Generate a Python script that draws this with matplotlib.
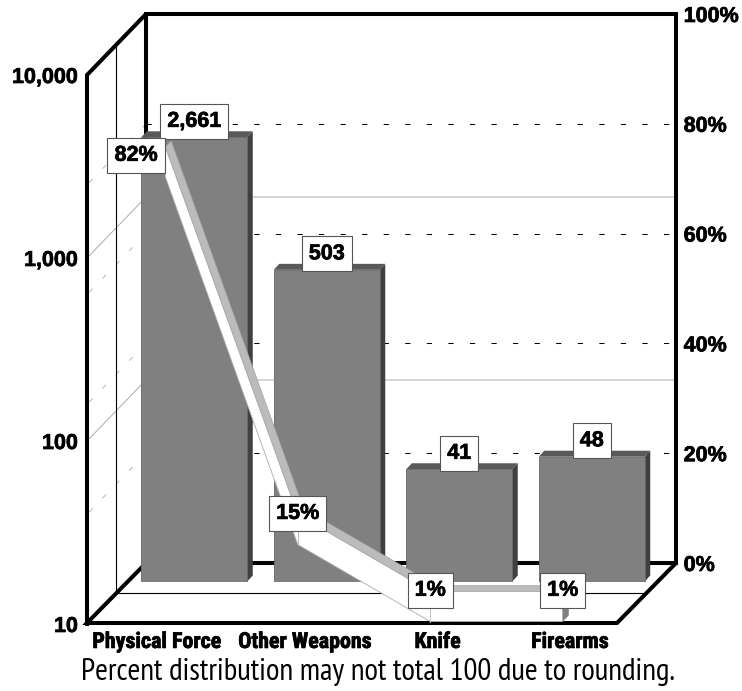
import matplotlib
matplotlib.use("Agg")
import matplotlib.patheffects as pe
import matplotlib.pyplot as plt
import numpy as np
from matplotlib.lines import Line2D
from matplotlib.patches import Polygon
from matplotlib.transforms import Affine2D, IdentityTransform

categories = ["Physical Force", "Other Weapons", "Knife", "Firearms"]
counts = [2661, 503, 41, 48]
count_labels = ["2,661", "503", "41", "48"]
percents = [82, 15, 1, 1]
percent_labels = ["82%", "15%", "1%", "1%"]
count_ticks = [10, 100, 1000, 10000]
count_tick_labels = ["10", "100", "1,000", "10,000"]
percent_ticks = [0, 20, 40, 60, 80, 100]
percent_tick_labels = ["0%", "20%", "40%", "60%", "80%", "100%"]
footnote = "Percent distribution may not total 100 due to rounding."

W, H = 742, 691
BOLD = ["Liberation Sans", "DejaVu Sans"]
NARROW_BOLD = ["Roboto Condensed", "Liberation Sans", "DejaVu Sans"]
NARROW = ["PT Sans Narrow", "Roboto Condensed", "Liberation Sans", "DejaVu Sans"]
heavy = [pe.withStroke(linewidth=0.5, foreground="black")]
DEPTH = (59, 61)  # front plane to back wall, in pixels

fig = plt.figure(figsize=(W / 100, H / 100), dpi=100, facecolor="white")


def addAxes(left, top, right, bottom):
    ax = fig.add_axes([left / W, 1 - bottom / H, (right - left) / W, (bottom - top) / H])
    ax.patch.set_alpha(0)
    for spine in ax.spines.values():
        spine.set_visible(False)
    ax.set_xlim(-0.5, 3.5)
    return ax


def px(x, y):
    return x, H - y


def frameLine(ax, points, color="black", lw=2.9, **kw):
    xs, ys = zip(*[px(*p) for p in points])
    ax.add_line(Line2D(xs, ys, color=color, lw=lw, transform=IdentityTransform(),
                       clip_on=False, solid_joinstyle="miter", **kw))


def poly(ax, points, fc, ec="none", lw=0.6):
    ax.add_patch(Polygon(points, closed=True, fc=fc, ec=ec, lw=lw,
                         transform=IdentityTransform(), clip_on=False))


# front plane: left axis and category labels
axFront = addAxes(87, 75, 617, 624)
axFront.set_zorder(1)
axFront.set_yscale("log")
axFront.set_ylim(10, 10000)
axFront.set_yticks(count_ticks, count_tick_labels)
axFront.minorticks_off()
axFront.tick_params(axis="y", length=0, pad=6.5)
axFront.set_xticks(range(4), categories)
axFront.tick_params(axis="x", length=0, pad=5)
for label in axFront.get_yticklabels():
    label.set(family=BOLD, weight="bold", fontsize=15.5, path_effects=heavy)
# the labels sit to the right of the front plane slots, the first one less so
for i, label in enumerate(axFront.get_xticklabels()):
    label.set(family=NARROW_BOLD, weight="bold", fontsize=15.8, path_effects=heavy)
    label.set_transform(label.get_transform() + Affine2D().translate(4 if i == 0 else 19.5, 0))

# back wall: right axis with dashed grid
axBack = addAxes(146, 14, 676, 563)
axBack.set_zorder(2)
axBack.set_ylim(0, 100)
axBack.set_xticks([])
axBack.yaxis.tick_right()
axBack.set_yticks(percent_ticks, percent_tick_labels)
axBack.tick_params(axis="y", length=0, pad=5.5)
for label in axBack.get_yticklabels():
    label.set(family=BOLD, weight="bold", fontsize=15.5, path_effects=heavy)
for p in percent_ticks[1:-1]:
    axBack.axhline(p, color="black", lw=0.75, ls=(0, (5, 15.7)))

# side wall and back wall gridlines, taken from the axis scales
for c in count_ticks[1:-1]:
    x0, y0 = axFront.transData.transform((-0.5, c))
    frameLine(axFront, [(x0, H - y0), (x0 + DEPTH[0], H - y0 - DEPTH[1]), (676, H - y0 - DEPTH[1])],
              color="#aaaaaa", lw=0.7)
for p in percent_ticks[1:-1]:
    x1, y1 = axBack.transData.transform((-0.5, p))
    frameLine(axFront, [(x1, H - y1), (x1 - DEPTH[0], H - y1 + DEPTH[1])],
              color="#aaaaaa", lw=0.6, ls=(0, (6, 17)))

# frame
frameLine(axFront, [(87, 624), (87, 75), (146, 14), (676, 14), (676, 563), (617, 623), (87, 623), (146, 563), (676, 563)])
frameLine(axFront, [(146, 14), (146, 563)])
frameLine(axFront, [(115.5, 44), (115.5, 593), (646, 593)], lw=0.8)

# bars with their side and top faces
axBar = addAxes(128, 32, 658, 581.5)
axBar.set_zorder(3)
axBar.set_yscale("log")
axBar.set_ylim(10, 10000)
axBar.axis("off")
barWidth = 0.8
xs = np.arange(len(categories))
axBar.bar(xs, np.array(counts) - 10, bottom=10, width=barWidth, color="#808080",
          edgecolor="#666666", linewidth=0.6, zorder=3)
dx, dy = 5.5, 6
for x, v, text in zip(xs, counts, count_labels):
    ll = axBar.transData.transform((x - barWidth / 2, v))
    lr = axBar.transData.transform((x + barWidth / 2, v))
    br = axBar.transData.transform((x + barWidth / 2, 10))
    poly(axBar, [lr, br, br + (dx, dy), lr + (dx, dy)], "#404040")
    poly(axBar, [ll, lr, lr + (dx, dy), ll + (dx, dy)], "#595959")
    axBar.annotate(text, (x, v), xytext=(0, 11.5), textcoords="offset points", ha="center", va="center",
                   family=BOLD, weight="bold", fontsize=15.5, path_effects=heavy, zorder=6,
                   bbox=dict(boxstyle="square,pad=0.33", fc="white", ec="#555555", lw=0.8))

# percent ribbon
axPct = addAxes(99, 78, 629, 627)
axPct.set_zorder(4)
axPct.set_ylim(0, 100)
axPct.axis("off")
low = axPct.transData.transform(np.column_stack([xs, percents]))
high = low + (0, 30)
back = high + (6, 6)
poly(axPct, np.vstack([high, back[::-1]]), "#bbbbbb", ec="#999999", lw=0.4)
poly(axPct, np.vstack([low, high[::-1]]), "white", ec="#aaaaaa", lw=0.6)
poly(axPct, [low[-1], high[-1], back[-1], low[-1] + (6, 6)], "#808080")
for i in range(1, 3):
    axPct.add_line(Line2D([low[i][0], high[i][0]], [low[i][1], high[i][1]], color="#bbbbbb", lw=0.7,
                          transform=IdentityTransform()))
for i, (x, p, text) in enumerate(zip(xs, percents, percent_labels)):
    offset = (-21, 15.5) if i == 0 else (0, 22.5)
    axPct.annotate(text, (x, p), xytext=offset, textcoords="offset points", ha="center", va="center",
                   family=BOLD, weight="bold", fontsize=15.5, path_effects=heavy, zorder=6,
                   bbox=dict(boxstyle="square,pad=0.33", fc="white", ec="#555555", lw=0.8))

fig.text(378 / W, 1 - 672 / H, footnote, ha="center", va="center", family=NARROW, fontsize=22.4)

fig.savefig("out.png", dpi=100)
